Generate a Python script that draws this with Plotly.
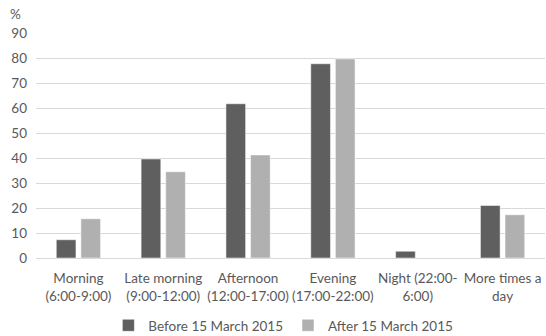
import plotly.graph_objects as go

categories = [
    "Morning<br>(6:00-9:00)",
    "Late morning<br>(9:00-12:00)",
    "Afternoon<br>(12:00-17:00)",
    "Evening<br>(17:00-22:00)",
    "Night (22:00-<br>6:00)",
    "More times a<br>day",
]
before = [7.3, 39.6, 61.7, 77.7, 2.7, 21.0]
after = [15.7, 34.5, 41.2, 79.6, 0, 17.3]
y_ticks = [0, 10, 20, 30, 40, 50, 60, 70, 80, 90]

FONT = "Lato, Calibri, Carlito, sans-serif"
TEXT = "#595959"

fig = go.Figure()
fig.add_trace(go.Bar(x=categories, y=before, name="Before 15 March 2015",
                     marker=dict(color="#5f5f5f", line=dict(color="white", width=0.5))))
fig.add_trace(go.Bar(x=categories, y=after, name="After 15 March 2015",
                     marker=dict(color="#b0b0b0", line=dict(color="white", width=0.5))))

fig.update_layout(
    width=546, height=336,
    margin=dict(l=36, r=1, t=33, b=78, autoexpand=False),
    paper_bgcolor="white", plot_bgcolor="white",
    barmode="group", bargap=0.42, bargroupgap=0.2,
    font=dict(family=FONT, size=13.5, color=TEXT),
    showlegend=True,
    legend=dict(orientation="h", x=0.486, xanchor="center", y=-0.3, yanchor="middle",
                font=dict(size=13.5, color=TEXT), itemwidth=30, traceorder="normal"),
    xaxis=dict(showgrid=False, showline=True, linecolor="#d9d9d9", linewidth=1,
               ticks="", tickfont=dict(size=13.5, color=TEXT), automargin=False,
               tickangle=0, ticklabelstandoff=8),
    yaxis=dict(range=[0, 90], tickvals=y_ticks, showgrid=True, gridcolor="#d9d9d9",
               gridwidth=1, zeroline=False, ticks="", tickfont=dict(size=13.5, color=TEXT),
               ticklabelstandoff=8, automargin=False),
    annotations=[dict(text="%", xref="paper", yref="paper", x=-0.04, y=1.085,
                      xanchor="center", yanchor="middle", showarrow=False,
                      font=dict(size=13.5, color=TEXT))],
)

fig.write_html("out.html")
